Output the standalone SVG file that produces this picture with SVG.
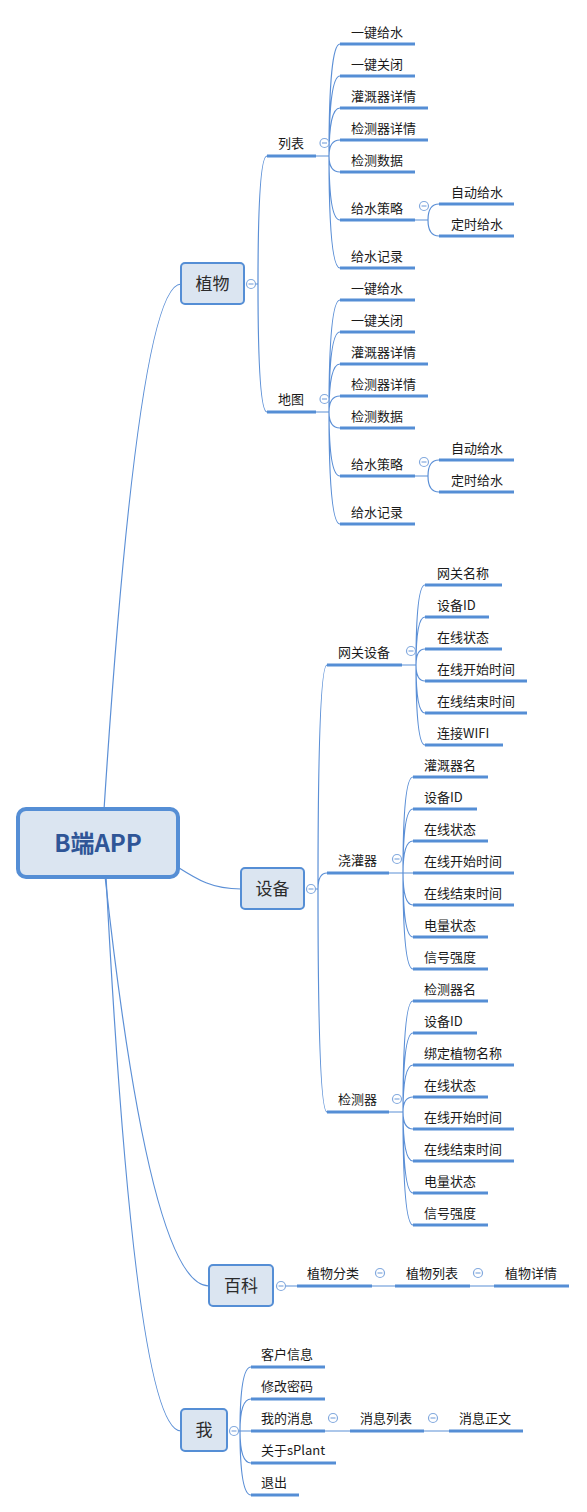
<svg xmlns="http://www.w3.org/2000/svg" width="587" height="1512" viewBox="0 0 587 1512">
<style>
text{font-family:"Noto Sans CJK SC","Liberation Sans",sans-serif;fill:#1a1a1a;}
.t{font-size:13px;}
.mt{font-size:17px;fill:#2b2b2b;text-anchor:middle;}
.rt{font-size:24px;font-weight:bold;fill:#2f5597;text-anchor:middle;}
.u{stroke:#558ed5;stroke-width:3;fill:none;}
.c{stroke:#5b8fd6;stroke-width:1.2;fill:none;}
.box{fill:#dbe5f1;stroke:#558ed5;stroke-width:2;}
.cc{fill:#fff;stroke:#82a9de;stroke-width:1.2;}
.cm{stroke:#82a9de;stroke-width:1.2;}
</style>
<defs>
<g id="col"><circle class="cc" cx="0" cy="0" r="4.5"/><line class="cm" x1="-2.5" y1="0" x2="2.5" y2="0"/></g>
</defs>
<rect width="587" height="1512" fill="#fff"/>
<g id="connectors">
<path class="c" d="M104 810 Q138 284 181 284"/>
<path class="c" d="M176 866 C198 880 212 889 241 889"/>
<path class="c" d="M105 876 Q150 1286 209 1286"/>
<path class="c" d="M106 876 Q135 1431 181 1431"/>
<!-- 植物 -->
<path class="c" d="M255 284 H258 M258 284 Q258 156 267 156 M258 284 Q258 412 267 412"/>
<path class="c" d="M316 156 H329 M329 156 Q329 44 340 44 M329 156 Q329 76 340 76 M329 156 Q329 108 340 108 M329 156 Q329 140 340 140 M329 156 Q329 172 340 172 M329 156 Q329 220 340 220 M329 156 Q329 268 340 268"/>
<path class="c" d="M415 220 H428 M428 220 Q428 204 439 204 M428 220 Q428 236 439 236"/>
<path class="c" d="M316 412 H329 M329 412 Q329 300 340 300 M329 412 Q329 332 340 332 M329 412 Q329 364 340 364 M329 412 Q329 396 340 396 M329 412 Q329 428 340 428 M329 412 Q329 476 340 476 M329 412 Q329 524 340 524"/>
<path class="c" d="M415 476 H428 M428 476 Q428 460 439 460 M428 476 Q428 492 439 492"/>
<!-- 设备 -->
<path class="c" d="M315 889 H318 M318 889 Q318 665 327 665 M318 889 Q318 873 327 873 M318 889 Q318 1112 327 1112"/>
<path class="c" d="M402 665 H416 M416 665 Q416 585 425 585 M416 665 Q416 617 425 617 M416 665 Q416 649 425 649 M416 665 Q416 681 425 681 M416 665 Q416 713 425 713 M416 665 Q416 745 425 745"/>
<path class="c" d="M389 873 H403 M403 873 Q403 777 413 777 M403 873 Q403 809 413 809 M403 873 Q403 841 413 841 M403 873 H413 M403 873 Q403 905 413 905 M403 873 Q403 937 413 937 M403 873 Q403 969 413 969"/>
<path class="c" d="M389 1112 H403 M403 1112 Q403 1001 413 1001 M403 1112 Q403 1033 413 1033 M403 1112 Q403 1065 413 1065 M403 1112 Q403 1097 413 1097 M403 1112 Q403 1129 413 1129 M403 1112 Q403 1161 413 1161 M403 1112 Q403 1193 413 1193 M403 1112 Q403 1225 413 1225"/>
<!-- 百科 -->
<path class="c" d="M285 1286 H297 M372 1286 H395 M470 1286 H494"/>
<!-- 我 -->
<path class="c" d="M238 1431 H240 M240 1431 Q240 1367 251 1367 M240 1431 Q240 1399 251 1399 M240 1431 H251 M240 1431 Q240 1463 251 1463 M240 1431 Q240 1495 251 1495 M325 1431 H350 M424 1431 H449"/>
</g>

<g id="root">
<rect x="18" y="809" width="160" height="68" rx="8" fill="#dbe5f1" stroke="#558ed5" stroke-width="4"/>
<text class="rt" x="98" y="852">B端APP</text>
</g>

<g id="n-zhiwu">
<rect class="box" x="181" y="263" width="63" height="41" rx="4"/>
<text class="mt" x="212.5" y="290">植物</text>
<use href="#col" x="251" y="284"/>
</g>
<g id="n-liebiao">
<line class="u" x1="267" y1="156" x2="316" y2="156"/><text class="t" x="278" y="148">列表</text><use href="#col" x="324.5" y="143"/>
</g>
<g id="n-l1"><line class="u" x1="340" y1="44" x2="415" y2="44"/><text class="t" x="351" y="37">一键给水</text></g>
<g id="n-l2"><line class="u" x1="340" y1="76" x2="415" y2="76"/><text class="t" x="351" y="69">一键关闭</text></g>
<g id="n-l3"><line class="u" x1="340" y1="108" x2="428" y2="108"/><text class="t" x="351" y="101">灌溉器详情</text></g>
<g id="n-l4"><line class="u" x1="340" y1="140" x2="428" y2="140"/><text class="t" x="351" y="133">检测器详情</text></g>
<g id="n-l5"><line class="u" x1="340" y1="172" x2="415" y2="172"/><text class="t" x="351" y="165">检测数据</text></g>
<g id="n-l6"><line class="u" x1="340" y1="220" x2="415" y2="220"/><text class="t" x="351" y="213">给水策略</text><use href="#col" x="424" y="206"/></g>
<g id="n-l6a"><line class="u" x1="439" y1="204" x2="514" y2="204"/><text class="t" x="451" y="197">自动给水</text></g>
<g id="n-l6b"><line class="u" x1="439" y1="236" x2="514" y2="236"/><text class="t" x="451" y="229">定时给水</text></g>
<g id="n-l7"><line class="u" x1="340" y1="268" x2="415" y2="268"/><text class="t" x="351" y="261">给水记录</text></g>

<g id="n-ditu">
<line class="u" x1="267" y1="412" x2="316" y2="412"/><text class="t" x="278" y="404">地图</text><use href="#col" x="324.5" y="399"/>
</g>
<g id="n-d1"><line class="u" x1="340" y1="300" x2="415" y2="300"/><text class="t" x="351" y="293">一键给水</text></g>
<g id="n-d2"><line class="u" x1="340" y1="332" x2="415" y2="332"/><text class="t" x="351" y="325">一键关闭</text></g>
<g id="n-d3"><line class="u" x1="340" y1="364" x2="428" y2="364"/><text class="t" x="351" y="357">灌溉器详情</text></g>
<g id="n-d4"><line class="u" x1="340" y1="396" x2="428" y2="396"/><text class="t" x="351" y="389">检测器详情</text></g>
<g id="n-d5"><line class="u" x1="340" y1="428" x2="415" y2="428"/><text class="t" x="351" y="421">检测数据</text></g>
<g id="n-d6"><line class="u" x1="340" y1="476" x2="415" y2="476"/><text class="t" x="351" y="469">给水策略</text><use href="#col" x="424" y="462"/></g>
<g id="n-d6a"><line class="u" x1="439" y1="460" x2="514" y2="460"/><text class="t" x="451" y="453">自动给水</text></g>
<g id="n-d6b"><line class="u" x1="439" y1="492" x2="514" y2="492"/><text class="t" x="451" y="485">定时给水</text></g>
<g id="n-d7"><line class="u" x1="340" y1="524" x2="415" y2="524"/><text class="t" x="351" y="517">给水记录</text></g>

<g id="n-shebei">
<rect class="box" x="241" y="868" width="63" height="41" rx="4"/>
<text class="mt" x="272.5" y="895">设备</text>
<use href="#col" x="311" y="889"/>
</g>
<g id="n-wg">
<line class="u" x1="327" y1="665" x2="402" y2="665"/><text class="t" x="338" y="657">网关设备</text><use href="#col" x="411" y="651"/>
</g>
<g id="n-wg1"><line class="u" x1="425" y1="585" x2="502" y2="585"/><text class="t" x="437" y="578">网关名称</text></g>
<g id="n-wg2"><line class="u" x1="425" y1="617" x2="489" y2="617"/><text class="t" x="437" y="610">设备ID</text></g>
<g id="n-wg3"><line class="u" x1="425" y1="649" x2="502" y2="649"/><text class="t" x="437" y="642">在线状态</text></g>
<g id="n-wg4"><line class="u" x1="425" y1="681" x2="527" y2="681"/><text class="t" x="437" y="674">在线开始时间</text></g>
<g id="n-wg5"><line class="u" x1="425" y1="713" x2="527" y2="713"/><text class="t" x="437" y="706">在线结束时间</text></g>
<g id="n-wg6"><line class="u" x1="425" y1="745" x2="503" y2="745"/><text class="t" x="437" y="738">连接WIFI</text></g>

<g id="n-jg">
<line class="u" x1="327" y1="873" x2="389" y2="873"/><text class="t" x="338" y="865">浇灌器</text><use href="#col" x="397" y="859"/>
</g>
<g id="n-jg1"><line class="u" x1="413" y1="777" x2="488" y2="777"/><text class="t" x="424" y="770">灌溉器名</text></g>
<g id="n-jg2"><line class="u" x1="413" y1="809" x2="477" y2="809"/><text class="t" x="424" y="802">设备ID</text></g>
<g id="n-jg3"><line class="u" x1="413" y1="841" x2="488" y2="841"/><text class="t" x="424" y="834">在线状态</text></g>
<g id="n-jg4"><line class="u" x1="413" y1="873" x2="514" y2="873"/><text class="t" x="424" y="866">在线开始时间</text></g>
<g id="n-jg5"><line class="u" x1="413" y1="905" x2="514" y2="905"/><text class="t" x="424" y="898">在线结束时间</text></g>
<g id="n-jg6"><line class="u" x1="413" y1="937" x2="488" y2="937"/><text class="t" x="424" y="930">电量状态</text></g>
<g id="n-jg7"><line class="u" x1="413" y1="969" x2="488" y2="969"/><text class="t" x="424" y="962">信号强度</text></g>

<g id="n-jc">
<line class="u" x1="327" y1="1112" x2="389" y2="1112"/><text class="t" x="338" y="1104">检测器</text><use href="#col" x="397" y="1099"/>
</g>
<g id="n-jc1"><line class="u" x1="413" y1="1001" x2="488" y2="1001"/><text class="t" x="424" y="994">检测器名</text></g>
<g id="n-jc2"><line class="u" x1="413" y1="1033" x2="477" y2="1033"/><text class="t" x="424" y="1026">设备ID</text></g>
<g id="n-jc3"><line class="u" x1="413" y1="1065" x2="514" y2="1065"/><text class="t" x="424" y="1058">绑定植物名称</text></g>
<g id="n-jc4"><line class="u" x1="413" y1="1097" x2="488" y2="1097"/><text class="t" x="424" y="1090">在线状态</text></g>
<g id="n-jc5"><line class="u" x1="413" y1="1129" x2="514" y2="1129"/><text class="t" x="424" y="1122">在线开始时间</text></g>
<g id="n-jc6"><line class="u" x1="413" y1="1161" x2="514" y2="1161"/><text class="t" x="424" y="1154">在线结束时间</text></g>
<g id="n-jc7"><line class="u" x1="413" y1="1193" x2="488" y2="1193"/><text class="t" x="424" y="1186">电量状态</text></g>
<g id="n-jc8"><line class="u" x1="413" y1="1225" x2="488" y2="1225"/><text class="t" x="424" y="1218">信号强度</text></g>

<g id="n-baike">
<rect class="box" x="209" y="1265" width="64" height="41" rx="4"/>
<text class="mt" x="241" y="1292">百科</text>
<use href="#col" x="281" y="1286"/>
</g>
<g id="n-bk1"><line class="u" x1="297" y1="1286" x2="372" y2="1286"/><text class="t" x="307" y="1278">植物分类</text><use href="#col" x="380" y="1273"/></g>
<g id="n-bk2"><line class="u" x1="395" y1="1286" x2="470" y2="1286"/><text class="t" x="406" y="1278">植物列表</text><use href="#col" x="478" y="1273"/></g>
<g id="n-bk3"><line class="u" x1="494" y1="1286" x2="569" y2="1286"/><text class="t" x="505" y="1278">植物详情</text></g>

<g id="n-wo">
<rect class="box" x="181" y="1409" width="46" height="42" rx="4"/>
<text class="mt" x="204" y="1436">我</text>
<use href="#col" x="234" y="1431"/>
</g>
<g id="n-wo1"><line class="u" x1="251" y1="1367" x2="325" y2="1367"/><text class="t" x="261" y="1359">客户信息</text></g>
<g id="n-wo2"><line class="u" x1="251" y1="1399" x2="325" y2="1399"/><text class="t" x="261" y="1391">修改密码</text></g>
<g id="n-wo3"><line class="u" x1="251" y1="1431" x2="325" y2="1431"/><text class="t" x="261" y="1423">我的消息</text><use href="#col" x="333" y="1418"/></g>
<g id="n-wo3a"><line class="u" x1="350" y1="1431" x2="424" y2="1431"/><text class="t" x="360" y="1423">消息列表</text><use href="#col" x="433" y="1418"/></g>
<g id="n-wo3b"><line class="u" x1="449" y1="1431" x2="523" y2="1431"/><text class="t" x="459" y="1423">消息正文</text></g>
<g id="n-wo4"><line class="u" x1="251" y1="1463" x2="336" y2="1463"/><text class="t" x="261" y="1455">关于sPlant</text></g>
<g id="n-wo5"><line class="u" x1="251" y1="1495" x2="299" y2="1495"/><text class="t" x="261" y="1487">退出</text></g>
</svg>
